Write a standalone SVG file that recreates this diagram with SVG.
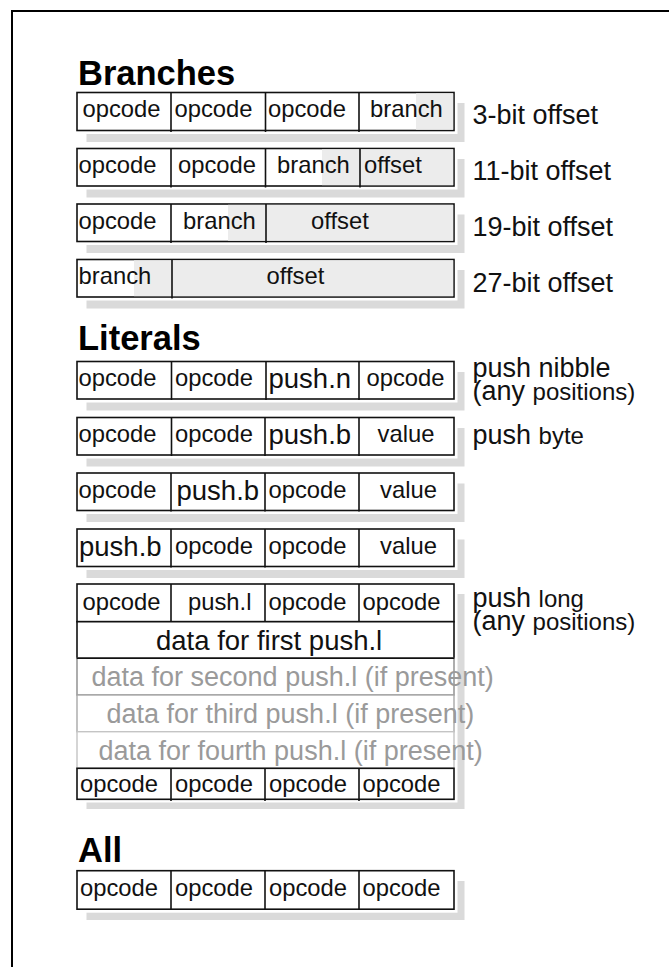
<svg xmlns="http://www.w3.org/2000/svg" width="669" height="967" viewBox="0 0 669 967">
  <style>
    .frame { fill: none; stroke: #000; stroke-width: 2; }
    .head { font-family: "Liberation Sans", Arial, sans-serif; font-weight: bold; font-size: 34.5px; fill: #000; }
    .cell { font-family: "Liberation Sans", Arial, sans-serif; font-size: 23.8px; fill: #111; }
    .big { font-family: "Liberation Sans", Arial, sans-serif; font-size: 27.5px; fill: #111; }
    .data { font-family: "Liberation Sans", Arial, sans-serif; font-size: 27.5px; fill: #111; }
    .lbl { font-family: "Liberation Sans", Arial, sans-serif; font-size: 27px; fill: #111; }
    .small { font-size: 24px; }
    .ghost { font-family: "Liberation Sans", Arial, sans-serif; font-size: 27px; fill: #9a9a9a; }
    .shadow { fill: #dadada; }
    .gap { fill: #fff; }
    .box { fill: #fff; stroke: #111; stroke-width: 1.6; }
    .shade { fill: #ececec; }
    .div { stroke: #111; stroke-width: 1.6; }
  </style>

  <!-- page frame (open at right and bottom) -->
  <path class="frame" d="M12 967 V11 H669"/>

  <!-- section headings -->
  <text class="head" x="78" y="84.5">Branches</text>
  <text class="head" x="78" y="349.5">Literals</text>
  <text class="head" x="78" y="862">All</text>

  <!-- ===== Branches ===== -->
  <g id="branch-3bit">
    <rect class="shadow" x="86.5" y="103" width="378" height="39"/>
    <rect class="gap" x="77" y="92.5" width="380.5" height="41.5"/>
    <rect class="box" x="77" y="92.5" width="377" height="38"/>
    <rect class="shade" x="416" y="93.3" width="37.2" height="36.4"/>
    <line class="div" x1="171" y1="92.5" x2="171" y2="132"/>
    <line class="div" x1="265.5" y1="92.5" x2="265.5" y2="132"/>
    <line class="div" x1="359" y1="92.5" x2="359" y2="132"/>
    <text class="cell" x="82.5" y="117">opcode</text>
    <text class="cell" x="174.5" y="117">opcode</text>
    <text class="cell" x="268" y="117">opcode</text>
    <text class="cell" x="370" y="117">branch</text>
    <text class="lbl" x="472.5" y="124">3-bit offset</text>
  </g>

  <g id="branch-11bit">
    <rect class="shadow" x="86.5" y="159" width="378" height="38.5"/>
    <rect class="gap" x="77" y="148.5" width="380.5" height="41"/>
    <rect class="box" x="77" y="148.5" width="377" height="37.5"/>
    <rect class="shade" x="322" y="149.3" width="131.2" height="35.9"/>
    <line class="div" x1="171" y1="148.5" x2="171" y2="187.5"/>
    <line class="div" x1="265.5" y1="148.5" x2="265.5" y2="187.5"/>
    <line class="div" x1="360" y1="148.5" x2="360" y2="187.5"/>
    <text class="cell" x="78.5" y="173">opcode</text>
    <text class="cell" x="178" y="173">opcode</text>
    <text class="cell" x="277" y="173">branch</text>
    <text class="cell" x="364" y="173">offset</text>
    <text class="lbl" x="472.5" y="180">11-bit offset</text>
  </g>

  <g id="branch-19bit">
    <rect class="shadow" x="86.5" y="214.5" width="378" height="38.5"/>
    <rect class="gap" x="77" y="204" width="380.5" height="41"/>
    <rect class="box" x="77" y="204" width="377" height="37.5"/>
    <rect class="shade" x="228" y="204.8" width="225.2" height="35.9"/>
    <line class="div" x1="171" y1="204" x2="171" y2="243"/>
    <line class="div" x1="266" y1="204" x2="266" y2="243"/>
    <text class="cell" x="78.5" y="228.5">opcode</text>
    <text class="cell" x="183" y="228.5">branch</text>
    <text class="cell" x="311" y="228.5">offset</text>
    <text class="lbl" x="472.5" y="235.5">19-bit offset</text>
  </g>

  <g id="branch-27bit">
    <rect class="shadow" x="86.5" y="270" width="378" height="38.5"/>
    <rect class="gap" x="77" y="259.5" width="380.5" height="41"/>
    <rect class="box" x="77" y="259.5" width="377" height="37.5"/>
    <rect class="shade" x="134" y="260.3" width="319.2" height="35.9"/>
    <line class="div" x1="172" y1="259.5" x2="172" y2="298.5"/>
    <text class="cell" x="78.5" y="284">branch</text>
    <text class="cell" x="266.5" y="284">offset</text>
    <text class="lbl" x="472.5" y="291.5">27-bit offset</text>
  </g>

  <!-- ===== Literals ===== -->
  <g id="push-nibble">
    <rect class="shadow" x="86.5" y="372" width="378" height="38.5"/>
    <rect class="gap" x="77" y="361.5" width="380.5" height="41"/>
    <rect class="box" x="77" y="361.5" width="377" height="37.5"/>
    <line class="div" x1="171.5" y1="361.5" x2="171.5" y2="400"/>
    <line class="div" x1="266" y1="361.5" x2="266" y2="400"/>
    <line class="div" x1="359" y1="361.5" x2="359" y2="400"/>
    <text class="cell" x="78.5" y="386">opcode</text>
    <text class="cell" x="175" y="386">opcode</text>
    <text class="big" x="268.5" y="388">push.n</text>
    <text class="cell" x="366.5" y="386">opcode</text>
    <text class="lbl" x="472.5" y="377">push nibble</text>
    <text class="lbl" x="472.5" y="399.5">(any <tspan class="small">positions)</tspan></text>
  </g>

  <g id="push-byte-4">
    <rect class="shadow" x="86.5" y="428" width="378" height="38.5"/>
    <rect class="gap" x="77" y="417.5" width="380.5" height="41"/>
    <rect class="box" x="77" y="417.5" width="377" height="37.5"/>
    <line class="div" x1="171.5" y1="417.5" x2="171.5" y2="456"/>
    <line class="div" x1="265" y1="417.5" x2="265" y2="456"/>
    <line class="div" x1="359" y1="417.5" x2="359" y2="456"/>
    <text class="cell" x="78.5" y="442">opcode</text>
    <text class="cell" x="175" y="442">opcode</text>
    <text class="big" x="268.5" y="444">push.b</text>
    <text class="cell" x="377.5" y="442">value</text>
    <text class="lbl" x="472.5" y="443.5">push <tspan class="small">byte</tspan></text>
  </g>

  <g id="push-byte-2">
    <rect class="shadow" x="86.5" y="483.5" width="378" height="38.5"/>
    <rect class="gap" x="77" y="473" width="380.5" height="41"/>
    <rect class="box" x="77" y="473" width="377" height="37.5"/>
    <line class="div" x1="171" y1="473" x2="171" y2="511.5"/>
    <line class="div" x1="265" y1="473" x2="265" y2="511.5"/>
    <line class="div" x1="359" y1="473" x2="359" y2="511.5"/>
    <text class="cell" x="78.5" y="497.5">opcode</text>
    <text class="big" x="176.5" y="499.5">push.b</text>
    <text class="cell" x="268.5" y="497.5">opcode</text>
    <text class="cell" x="380" y="497.5">value</text>
  </g>

  <g id="push-byte-1">
    <rect class="shadow" x="86.5" y="539.5" width="378" height="38.5"/>
    <rect class="gap" x="77" y="529" width="380.5" height="41"/>
    <rect class="box" x="77" y="529" width="377" height="37.5"/>
    <line class="div" x1="171" y1="529" x2="171" y2="567.5"/>
    <line class="div" x1="265" y1="529" x2="265" y2="567.5"/>
    <line class="div" x1="359" y1="529" x2="359" y2="567.5"/>
    <text class="big" x="79" y="555.5">push.b</text>
    <text class="cell" x="175" y="553.5">opcode</text>
    <text class="cell" x="268.5" y="553.5">opcode</text>
    <text class="cell" x="380" y="553.5">value</text>
  </g>

  <g id="push-long">
    <rect class="shadow" x="86.5" y="594" width="378" height="215"/>
    <rect class="gap" x="77" y="584" width="380.5" height="218.5"/>
    <!-- opcode word holding push.l -->
    <rect class="box" x="77" y="584" width="377" height="37.7"/>
    <line class="div" x1="171" y1="584" x2="171" y2="621.7"/>
    <line class="div" x1="265" y1="584" x2="265" y2="621.7"/>
    <line class="div" x1="359" y1="584" x2="359" y2="621.7"/>
    <text class="cell" x="82.5" y="610">opcode</text>
    <text class="cell" x="188" y="610">push.l</text>
    <text class="cell" x="268.5" y="610">opcode</text>
    <text class="cell" x="362.5" y="610">opcode</text>
    <!-- literal data words -->
    <rect class="box" x="77" y="621.7" width="377" height="36.6"/>
    <text class="data" x="156" y="650">data for first push.l</text>
    <rect x="77" y="658.3" width="377" height="36.7" fill="#fff" stroke="#8a8a8a" stroke-width="1.4"/>
    <rect x="77" y="695" width="377" height="36.7" fill="#fff" stroke="#a8a8a8" stroke-width="1.4"/>
    <rect x="77" y="731.7" width="377" height="36.6" fill="#fff" stroke="#c4c4c4" stroke-width="1.4"/>
    <line class="div" x1="77" y1="658.3" x2="454" y2="658.3"/>
    <text class="ghost" x="91.5" y="686">data for second push.l (if present)</text>
    <text class="ghost" x="106.5" y="723">data for third push.l (if present)</text>
    <text class="ghost" x="98.5" y="759.5">data for fourth push.l (if present)</text>
    <!-- next opcode word -->
    <rect class="box" x="77" y="768.3" width="377" height="31"/>
    <line class="div" x1="171" y1="768.3" x2="171" y2="801"/>
    <line class="div" x1="265" y1="768.3" x2="265" y2="801"/>
    <line class="div" x1="359" y1="768.3" x2="359" y2="801"/>
    <text class="cell" x="80" y="792">opcode</text>
    <text class="cell" x="175" y="792">opcode</text>
    <text class="cell" x="269" y="792">opcode</text>
    <text class="cell" x="362.5" y="792">opcode</text>
    <text class="lbl" x="472.5" y="607">push <tspan class="small">long</tspan></text>
    <text class="lbl" x="472.5" y="629.5">(any <tspan class="small">positions)</tspan></text>
  </g>

  <!-- ===== All ===== -->
  <g id="all-opcodes">
    <rect class="shadow" x="86.5" y="881" width="378" height="39"/>
    <rect class="gap" x="77" y="870.7" width="380.5" height="42"/>
    <rect class="box" x="77" y="870.7" width="377" height="38.5"/>
    <line class="div" x1="171" y1="870.7" x2="171" y2="909.2"/>
    <line class="div" x1="265" y1="870.7" x2="265" y2="909.2"/>
    <line class="div" x1="359" y1="870.7" x2="359" y2="909.2"/>
    <text class="cell" x="80" y="896">opcode</text>
    <text class="cell" x="175" y="896">opcode</text>
    <text class="cell" x="269" y="896">opcode</text>
    <text class="cell" x="362.5" y="896">opcode</text>
  </g>
</svg>
